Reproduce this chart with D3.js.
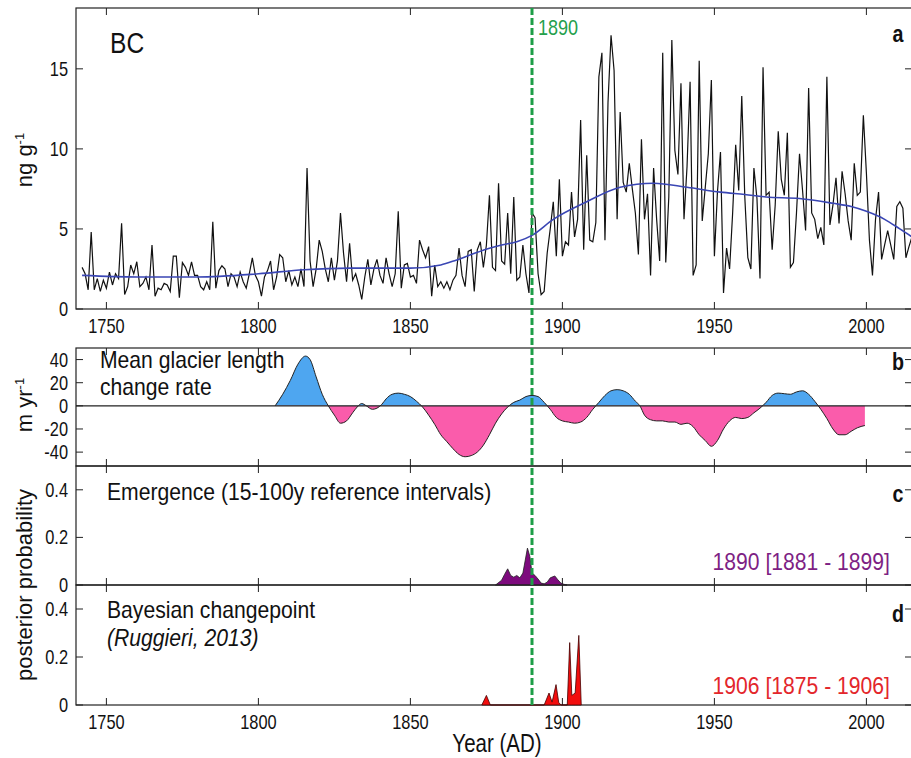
<!DOCTYPE html>
<html>
<head>
<meta charset="utf-8">
<script src="https://cdn.jsdelivr.net/npm/d3@7"></script>
<style>
  body { margin: 0; background: #fff; }
  svg { display: block; }
  text { font-family: "Liberation Sans", Arial, sans-serif; fill: #111; }
</style>
</head>
<body>
<div id="chart"></div>
<script>
// ---- data ----
// a: annual BC concentration, 1742-2015 (ng/g)
const bcStart = 1742
const bc = [
  2.6, 2.2, 1.2, 4.8, 1.2, 1.9, 1.1, 1.8,                  // 1742-49
  1.3, 2.3, 1.5, 2.2, 1.9, 5.35, 0.9, 1.4, 2.75, 2.2,      // 1750s
  2.95, 1.4, 1.6, 2.0, 1.2, 4.0, 0.8, 1.3, 1.2, 1.6,       // 1760s
  1.5, 1.1, 3.3, 3.3, 0.7, 2.9, 2.6, 2.1, 2.95, 2.1,       // 1770s
  2.1, 1.4, 1.2, 1.7, 1.2, 5.45, 1.3, 2.4, 2.7, 2.5,       // 1780s
  1.4, 2.2, 2.0, 1.4, 2.3, 1.7, 1.3, 2.2, 3.2, 2.1,        // 1790s
  1.7, 0.8, 2.0, 2.4, 3.0, 1.2, 2.0, 3.4, 3.2, 1.7,        // 1800s
  2.4, 1.5, 2.0, 1.4, 2.5, 1.4, 8.8, 3.0, 1.4, 2.5,        // 1810s
  4.3, 3.6, 2.5, 1.7, 3.2, 1.8, 3.0, 6.0, 3.5, 1.7,        // 1820s
  4.1, 1.8, 2.2, 1.5, 0.6, 2.0, 3.1, 1.5, 2.5, 3.1,        // 1830s
  2.1, 1.6, 3.2, 2.2, 1.4, 2.2, 6.1, 1.3, 2.75, 2.85,      // 1840s
  2.0, 2.1, 1.6, 4.3, 3.7, 3.2, 3.9, 0.8, 2.75, 1.4,       // 1850s
  1.7, 1.3, 1.7, 1.2, 1.8, 2.1, 3.8, 2.1, 1.4, 3.6,        // 1860s
  3.7, 1.1, 3.7, 4.2, 2.6, 4.0, 7.1, 2.6, 2.4, 7.85,       // 1870s
  3.0, 2.8, 6.0, 2.2, 7.0, 1.8, 2.0, 4.0, 2.2, 1.0,        // 1880s
  6.0, 5.7, 2.2, 0.9, 1.1, 3.5, 5.0, 6.7, 3.3, 8.1,        // 1890s
  3.3, 4.2, 4.0, 7.3, 4.5, 5.6, 11.8, 3.7, 9.6, 4.3,       // 1900s
  4.2, 5.4, 14.5, 16.0, 4.3, 12.9, 17.1, 14.9, 5.6, 12.3,  // 1910s
  7.9, 7.3, 9.1, 7.5, 6.0, 3.4, 10.6, 5.6, 7.2, 2.1,       // 1920s
  8.8, 5.6, 3.0, 16.0, 2.9, 7.0, 16.8, 9.9, 8.4, 14.1,     // 1930s
  5.6, 8.9, 14.2, 2.1, 2.75, 15.5, 5.5, 7.6, 9.7, 14.3,    // 1940s
  3.3, 7.3, 9.8, 1.0, 3.8, 2.5, 6.0, 10.25, 7.4, 13.3,     // 1950s
  7.0, 3.2, 2.5, 8.8, 6.9, 1.9, 15.1, 7.1, 7.3, 3.7,       // 1960s
  6.5, 11.1, 8.1, 7.1, 11.0, 2.6, 2.9, 6.0, 9.7, 7.4,      // 1970s
  4.9, 13.8, 6.0, 5.6, 4.4, 5.1, 4.0, 14.5, 5.25, 6.5,     // 1980s
  8.2, 5.35, 8.6, 7.2, 5.5, 4.3, 9.1, 7.1, 7.3, 12.1,      // 1990s
  8.5, 4.3, 2.1, 5.6, 7.3, 3.1, 4.0, 4.9, 4.0, 3.1,        // 2000s
  6.4, 6.7, 6.3, 3.2, 3.9, 4.5                             // 2010-15
]

// a: smoothed trend (blue)
const trendYears = [1742, 1760, 1780, 1800, 1815, 1830, 1850, 1860, 1865, 1870, 1876, 1880, 1885, 1890,
  1897, 1908, 1919, 1930, 1941, 1952, 1960, 1967, 1978, 1989, 1995, 2000, 2006, 2011, 2015]
const trendVals = [2.1, 2.0, 2.0, 2.2, 2.45, 2.55, 2.55, 2.75, 3.05, 3.4, 3.8, 4.0, 4.2, 4.6,
  5.6, 6.7, 7.6, 7.85, 7.6, 7.3, 7.15, 7.0, 6.9, 6.6, 6.4, 6.1, 5.6, 5.0, 4.5]

// b: mean glacier length change rate (m/yr)
const glacierYears = [1805.5, 1808, 1810.5, 1813, 1815.5, 1817, 1819, 1821, 1823, 1825, 1827, 1829, 1831,
  1832.5, 1834, 1835.5, 1837.5, 1839, 1840.5, 1842, 1844, 1846, 1848, 1850, 1852, 1854, 1856, 1858,
  1860, 1862, 1864, 1866, 1868, 1870, 1872, 1874, 1876, 1878, 1880, 1882, 1884, 1886, 1888, 1890,
  1892, 1894, 1896, 1898, 1900, 1902, 1904, 1906, 1908, 1910, 1912, 1914, 1916, 1918, 1920, 1922,
  1924, 1925.5, 1927, 1929, 1931, 1933, 1935, 1937, 1939, 1941, 1943, 1945, 1947, 1949, 1951, 1953,
  1955, 1957, 1959, 1961, 1963, 1965, 1967, 1969, 1971, 1973, 1975, 1977, 1979, 1981, 1983, 1985,
  1987, 1989, 1991, 1993, 1995, 1997, 1999.5]
const glacierRate = [0, 10, 22, 36, 43, 40, 25, 10, 0, -8, -15, -13, -6,
  -1, 2, 0, -3, -2, 1, 6, 10, 11, 10, 8, 4, -1, -8, -16,
  -25, -31, -37, -42, -44, -43, -40, -34, -25, -15, -7, -1, 3, 5, 8, 9,
  8, 3, -3, -10, -13, -14, -15, -14, -10, -3, 3, 9, 13, 14, 13, 10,
  4, 0, -8, -12, -13, -13, -14, -14, -16, -15, -18, -25, -30, -35, -30, -20,
  -13, -10, -11, -10, -6, -2, 3, 9, 11, 10.5, 10, 12, 13, 10, 4, -3,
  -11, -20, -25, -25, -22, -19, -17]

// c: emergence posterior probability
const emergYears = [1878, 1880, 1881, 1882, 1883, 1884, 1885, 1886, 1887, 1888.5, 1889.3, 1890, 1891,
  1892, 1893, 1894, 1895, 1896, 1897.5, 1898.5, 1899.5, 1900.5, 1901.5]
const emergProb = [0, 0.02, 0.045, 0.068, 0.04, 0.033, 0.04, 0.03, 0.05, 0.155, 0.12, 0.05, 0.04,
  0.025, 0.008, 0.005, 0.012, 0.03, 0.038, 0.022, 0.008, 0.003, 0]

// d: Bayesian changepoint posterior probability
const cpYears = [1873.5, 1875, 1876.3, 1894, 1895.6, 1896.6, 1897.9, 1898.8, 1899.6, 1901.6, 1902.4,
  1903.1, 1904.2, 1905.4, 1906.2]
const cpProb = [0, 0.04, 0, 0, 0.05, 0.012, 0.085, 0.01, 0, 0, 0.26, 0.04, 0.05, 0.29, 0]

const yearTicks = [1750, 1800, 1850, 1900, 1950, 2000]
const bcTicks = [0, 5, 10, 15]
const rateTicks = [-40, -20, 0, 20, 40]
const probTicks = [0, 0.2, 0.4]
const onsetYear = 1890

// ---- layout ----
const W = 911, H = 758
const SQ = 0.82   // the figure is horizontally squeezed; mimic with a scaleX on text
const svg = d3.select('#chart').append('svg').attr('width', W).attr('height', H)

const x = d3.scaleLinear().domain([1740, 2015]).range([76, 912])
const yA = d3.scaleLinear().domain([0, 18.8]).range([309, 8])
const yB = d3.scaleLinear().domain([-52, 50]).range([466, 348])
const yC = d3.scaleLinear().domain([0, 0.5]).range([585, 466])
const yD = d3.scaleLinear().domain([0, 0.5]).range([705, 585])

function label(x0, y0, str, o = {}) {
    return svg.append('text')
        .attr('transform', `translate(${x0},${y0}) scale(${o.sq || SQ},1)`)
        .attr('text-anchor', o.anchor || 'start')
        .style('font-size', `${o.size || 24}px`)
        .style('font-weight', o.bold ? 'bold' : null)
        .style('font-style', o.italic ? 'italic' : null)
        .style('fill', o.color || '#111')
        .text(str)
}

function frame(y, withXLabels) {
    const [y1, y0] = y.range()
    const g = svg.append('g')
    g.append('rect')
        .attr('x', x.range()[0]).attr('y', y0)
        .attr('width', x.range()[1] - x.range()[0]).attr('height', y1 - y0)
        .attr('fill', 'none').attr('stroke', '#222').attr('stroke-width', 1.2)
    // inward ticks on top and bottom
    g.selectAll('.tt').data(yearTicks).enter().append('line')
        .attr('x1', d => x(d)).attr('x2', d => x(d))
        .attr('y1', y0).attr('y2', y0 + 7)
        .attr('stroke', '#222')
    g.selectAll('.tb').data(yearTicks).enter().append('line')
        .attr('x1', d => x(d)).attr('x2', d => x(d))
        .attr('y1', y1).attr('y2', y1 - 7)
        .attr('stroke', '#222')
    if (withXLabels) {
        yearTicks.forEach(t => label(x(t), y1 + 24, t, { size: 20, anchor: 'middle' }))
    }
    return g
}

function yTicks(y, ticks, fmt) {
    const x0 = x.range()[0], x1 = x.range()[1]
    ticks.forEach(t => {
        svg.append('line').attr('x1', x0).attr('x2', x0 + 7)
            .attr('y1', y(t)).attr('y2', y(t)).attr('stroke', '#222')
        svg.append('line').attr('x1', x1).attr('x2', x1 - 7)
            .attr('y1', y(t)).attr('y2', y(t)).attr('stroke', '#222')
        label(x0 - 8, y(t) + 7, fmt(t), { size: 20, anchor: 'end' })
    })
}

// ---- panel a ----
frame(yA, true)
yTicks(yA, bcTicks, d => d)

const bcData = bc.map((v, i) => [bcStart + i, v])
svg.append('path')
    .datum(bcData)
    .attr('fill', 'none').attr('stroke', '#111').attr('stroke-width', 1.2)
    .attr('d', d3.line().x(d => x(d[0])).y(d => yA(d[1])))

svg.append('path')
    .datum(trendYears.map((t, i) => [t, trendVals[i]]))
    .attr('fill', 'none').attr('stroke', '#3a46b4').attr('stroke-width', 1.6)
    .attr('d', d3.line().curve(d3.curveMonotoneX).x(d => x(d[0])).y(d => yA(d[1])))

label(110, 53, 'BC', { size: 30 })
label(898, 42, 'a', { size: 24, bold: true, anchor: 'middle' })

// ---- panel b ----
frame(yB, false)
yTicks(yB, rateTicks, d => d)

const gData = glacierYears.map((t, i) => [t, glacierRate[i]])
const gArea = d3.area().curve(d3.curveMonotoneX)
    .x(d => x(d[0])).y0(yB(0)).y1(d => yB(d[1]))
const defs = svg.append('defs')
defs.append('clipPath').attr('id', 'above')
    .append('rect').attr('x', 0).attr('y', 0).attr('width', W).attr('height', yB(0))
defs.append('clipPath').attr('id', 'below')
    .append('rect').attr('x', 0).attr('y', yB(0)).attr('width', W).attr('height', H)

svg.append('path').datum(gData).attr('clip-path', 'url(#above)')
    .attr('fill', '#4ea6f0').attr('d', gArea)
svg.append('path').datum(gData).attr('clip-path', 'url(#below)')
    .attr('fill', '#fa5cab').attr('d', gArea)
svg.append('path').datum(gData)
    .attr('fill', 'none').attr('stroke', '#222').attr('stroke-width', 1)
    .attr('d', d3.line().curve(d3.curveMonotoneX).x(d => x(d[0])).y(d => yB(d[1])))
svg.append('line')
    .attr('x1', x.range()[0]).attr('x2', x.range()[1])
    .attr('y1', yB(0)).attr('y2', yB(0))
    .attr('stroke', '#222').attr('stroke-width', 1.2)

const note = { size: 23, sq: 0.92 }
label(100, 368, 'Mean glacier length', note)
label(100, 395, 'change rate', note)
label(898, 370, 'b', { size: 24, bold: true, anchor: 'middle' })

// ---- panel c ----
frame(yC, false)
yTicks(yC, probTicks, d => d === 0 ? '0' : d3.format('.1f')(d))
svg.append('path')
    .datum(emergYears.map((t, i) => [t, emergProb[i]]))
    .attr('fill', '#7d0a7d').attr('stroke', '#222').attr('stroke-width', 0.8)
    .attr('d', d3.area().x(d => x(d[0])).y0(yC(0)).y1(d => yC(d[1])))

label(107, 500, 'Emergence (15-100y reference intervals)', note)
label(890, 570, '1890 [1881 - 1899]', { ...note, anchor: 'end', color: '#7e1f84' })
label(898, 502, 'c', { size: 24, bold: true, anchor: 'middle' })

// ---- panel d ----
frame(yD, true)
yTicks(yD, probTicks, d => d === 0 ? '0' : d3.format('.1f')(d))
svg.append('path')
    .datum(cpYears.map((t, i) => [t, cpProb[i]]))
    .attr('fill', '#f20d0d').attr('stroke', '#400').attr('stroke-width', 0.8)
    .attr('d', d3.area().x(d => x(d[0])).y0(yD(0)).y1(d => yD(d[1])))

label(107, 618, 'Bayesian changepoint', note)
label(107, 646, '(Ruggieri, 2013)', { ...note, italic: true })
label(890, 694, '1906 [1875 - 1906]', { ...note, anchor: 'end', color: '#e3262b' })
label(898, 622, 'd', { size: 24, bold: true, anchor: 'middle' })

// ---- 1890 onset line ----
svg.append('line')
    .attr('x1', x(onsetYear)).attr('x2', x(onsetYear))
    .attr('y1', yA.range()[1]).attr('y2', yD.range()[0])
    .attr('stroke', '#1e9e48').attr('stroke-width', 3)
    .attr('stroke-dasharray', '7,3')
label(x(onsetYear) + 6, 35, '1890', { size: 22, color: '#24a04c' })

// ---- axis titles ----
function vtitle(cx, cy, main, sup) {
    const t = svg.append('text')
        .attr('transform', `translate(${cx},${cy}) rotate(-90)`)
        .attr('text-anchor', 'middle')
        .style('font-size', '22px')
    t.append('tspan').text(main)
    if (sup) t.append('tspan').attr('dy', -8).style('font-size', '13px').text(sup)
    return t
}
vtitle(32, 160, 'ng g', '-1')
vtitle(32, 405, 'm yr', '-1')
vtitle(32, 585, 'posterior probability')
label(497, 752, 'Year (AD)', { size: 25, anchor: 'middle' })
</script>
</body>
</html>
